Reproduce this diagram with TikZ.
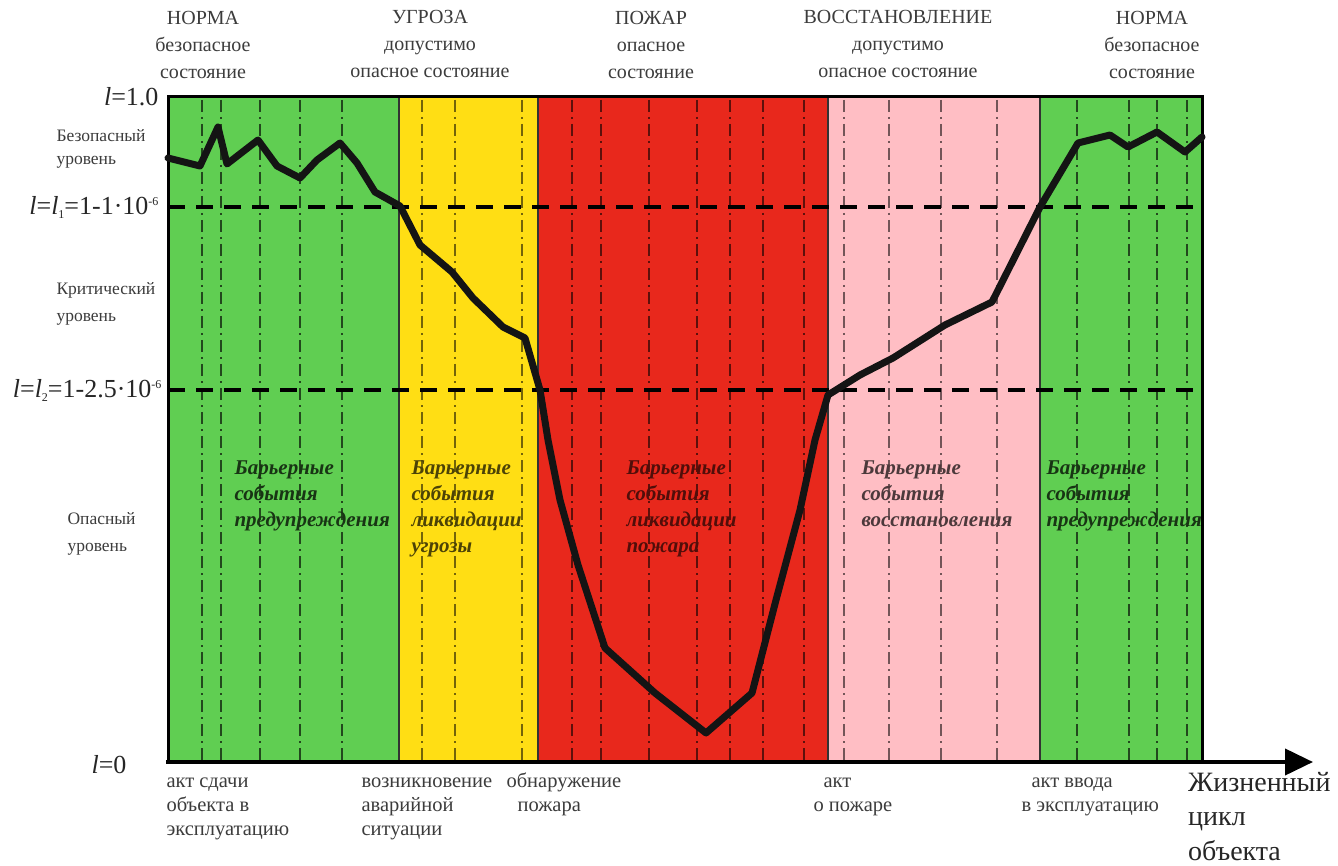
\documentclass[tikz,border=0pt]{standalone}
\usepackage{fontspec}
\setmainfont{Liberation Serif}
\usetikzlibrary{arrows.meta}
\definecolor{gr}{RGB}{96,206,82}
\definecolor{ye}{RGB}{255,222,20}
\definecolor{rd}{RGB}{232,40,28}
\definecolor{pk}{RGB}{255,190,196}
\definecolor{txt}{RGB}{60,60,60}
\newcommand{\mysub}[1]{\raisebox{-4pt}{\fontsize{12}{12}\selectfont #1}}
\newcommand{\mysup}[1]{\raisebox{9pt}{\fontsize{12}{12}\selectfont #1}}
\begin{document}
\begin{tikzpicture}[x=1pt,y=-1pt,
  vline/.style={line width=1.3pt, dash pattern=on 12pt off 5pt on 2pt off 5pt},
  hdash/.style={line width=4pt, dash pattern=on 17pt off 11pt},
  toplbl/.style={align=center, text=txt, font=\fontsize{20}{27}\selectfont},
  lvl/.style={align=left, anchor=west, text=txt, font=\fontsize{17.5}{27}\selectfont},
  lval/.style={anchor=east, text=black!85, font=\fontsize{26}{28}\selectfont},
  botlbl/.style={align=left, anchor=north west, text=txt, font=\fontsize{20.5}{24}\selectfont},
  barr/.style={align=left, anchor=north west, font=\fontsize{21}{26}\selectfont\bfseries\itshape}
]
\useasboundingbox (0,0) rectangle (1338,866);
\fill[white] (0,0) rectangle (1338,866);
% bands
\fill[gr] (168,97) rectangle (399,762);
\fill[ye] (399,97) rectangle (538,762);
\fill[rd] (538,97) rectangle (828,762);
\fill[pk] (828,97) rectangle (1040,762);
\fill[gr] (1040,97) rectangle (1202,762);
% dash-dot verticals
\foreach \x in {202,221,260,300,342,1077,1129,1157,1187}
  \draw[vline, gr!35!black] (\x,100) -- (\x,760);
\foreach \x in {422,455,522}
  \draw[vline, ye!45!black] (\x,100) -- (\x,760);
\foreach \x in {572,601,649,697,730,763,804}
  \draw[vline, rd!40!black] (\x,100) -- (\x,760);
\foreach \x in {844,889,941,997}
  \draw[vline, pk!45!black] (\x,100) -- (\x,760);
% band borders
\foreach \x in {399,538,828,1040}
  \draw[line width=1.2pt, black!80] (\x,97) -- (\x,762);
% level lines
\coordinate (l1a) at (168,207); \coordinate (l1b) at (1202,207);
\coordinate (l2a) at (168,390); \coordinate (l2b) at (1202,390);
\draw[hdash] (l1a) -- (l1b);
\draw[hdash] (l2a) -- (l2b);
% frame
\draw[line width=3pt] (168,762) -- (168,97) -- (1202,97) -- (1202,762);
% axis
\coordinate (ax0) at (166,762);
\coordinate (ax1) at (1313,762);
\draw[line width=4pt, -{Triangle[length=28pt,width=26pt]}] (ax0) -- (ax1);
% curve
\draw[line width=7pt, line join=round, line cap=round, black!92]
  plot coordinates {(168,158) (200,166) (218,127) (227,164) (258,140) (277,166) (300,178) (317,160) (340,143) (357,163) (375,192) (400,206) (420,245) (452,272) (473,298) (503,327) (525,338) (540,390) (548,440) (560,500) (578,565) (605,648) (655,693) (706,733) (752,693) (776,600) (800,510) (815,440) (828,395) (860,375) (893,358) (945,325) (992,302) (1040,207) (1078,143) (1110,135) (1128,147) (1157,132) (1185,152) (1202,137)};
% top labels
\node[toplbl] (t1) at (203,45) {НОРМА\\безопасное\\состояние};
\node[toplbl] (t2) at (430,44) {УГРОЗА\\допустимо\\опасное состояние};
\node[toplbl] (t3) at (651,45) {ПОЖАР\\опасное\\состояние};
\node[toplbl] (t4) at (898,44) {ВОССТАНОВЛЕНИЕ\\допустимо\\опасное состояние};
\node[toplbl] (t5) at (1152,45) {НОРМА\\безопасное\\состояние};
% left labels
\node[lval] (v1) at (162,97) {\textit{l}=1.0};
\node[lval] (v2) at (162,207) {\textit{l}=\textit{l}\mysub{1}=1-1·10\mysup{-6}};
\node[lval] (v3) at (165,390) {\textit{l}=\textit{l}\mysub{2}=1-2.5·10\mysup{-6}};
\node[lval] (v4) at (130,765) {\textit{l}=0};
\node[lvl, font=\fontsize{17.5}{23}\selectfont] (s1) at (53,149) {Безопасный\\уровень};
\node[lvl] (s2) at (53,304) {Критический\\уровень};
\node[lvl] (s3) at (64,534) {Опасный\\уровень};
% bottom labels
\node[botlbl] (b1) at (163,767) {\strut акт сдачи\\объекта в\\эксплуатацию};
\node[botlbl] (b2) at (358,767) {\strut возникновение\\аварийной\\ситуации};
\node[botlbl] (b3) at (503,767) {\strut обнаружение\\\hspace{11pt}пожара};
\node[botlbl] (b4) at (810,767) {\strut\hspace{10pt}акт\\о пожаре};
\node[botlbl] (b5) at (1018,767) {\strut\hspace{10pt}акт ввода\\в эксплуатацию};
\node[botlbl, inner sep=0pt, text=black!85, font=\fontsize{28}{34.5}\selectfont] (b6) at (1188,767) {\strut Жизненный\\цикл\\объекта};
% barrier labels
\node[barr, text=gr!25!black] (g1) at (231,457) {Барьерные\\события\\предупреждения};
\node[barr, text=ye!30!black] (g2) at (408,457) {Барьерные\\события\\ликвидации\\угрозы};
\node[barr, text=rd!35!black] (g3) at (623,457) {Барьерные\\события\\ликвидации\\пожара};
\node[barr, text=pk!30!black] (g4) at (858,457) {Барьерные\\события\\восстановления};
\node[barr, text=gr!25!black] (g5) at (1043,457) {Барьерные\\события\\предупреждения};
\end{tikzpicture}
\end{document}
